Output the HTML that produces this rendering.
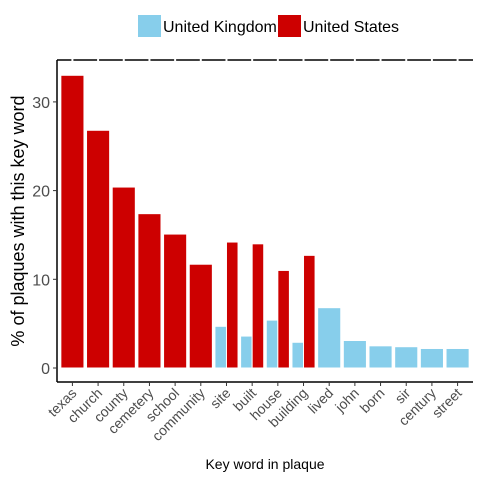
<!DOCTYPE html>
<html><head><meta charset="utf-8"><style>
body{margin:0;background:#fff;font-family:"Liberation Sans",sans-serif}
</style></head><body>
<svg id="c" width="480" height="480" xmlns="http://www.w3.org/2000/svg" font-family="Liberation Sans, sans-serif"></svg>
<script>
const categories=["texas","church","county","cemetery","school","community","site","built","house","building","lived","john","born","sir","century","street"];
const ukValues=[null,null,null,null,null,null,4.7,3.6,5.4,2.9,6.8,3.1,2.5,2.4,2.2,2.2];
const usValues=[33,26.8,20.4,17.4,15.1,11.7,14.2,14.0,11.0,12.7,null,null,null,null,null,null];
const yTicks=[0,10,20,30];
const svg=document.getElementById('c');
const NS='http://www.w3.org/2000/svg';
const L=57,R=473,T=60,B=382;
const unit=(R-L)/(categories.length-1+1.2);
const x=i=>L+(0.6+i)*unit;
const y=v=>368-v*8.87;
function mk(t,a,p){const e=document.createElementNS(NS,t);for(const k in a)e.setAttribute(k,a[k]);(p||svg).appendChild(e);return e;}
let e=mk('line',{x1:L,y1:T,x2:L,y2:B,stroke:'#000','stroke-width':1.5});


e=mk('line',{x1:L,y1:B,x2:R,y2:B,stroke:'#000','stroke-width':1.5});


e=mk('line',{x1:L,y1:T,x2:R,y2:T,stroke:'#000','stroke-width':1.5,'stroke-dasharray':(unit-2)+' 2','stroke-dashoffset':(0.4*unit-1)});


yTicks.forEach(v=>{
 let t=mk('line',{x1:L-4,y1:y(v),x2:L,y2:y(v),stroke:'#333'});
 
 
 let l=mk('text',{x:L-7,y:y(v)+6,'text-anchor':'end','font-size':16,fill:'#4d4d4d'});l.textContent=v;
 
 
});
const bw=unit*0.9;
categories.forEach((c,i)=>{
 const cx=x(i);const uk=ukValues[i],us=usValues[i];
 const both=uk!=null&&us!=null;
 function bar(v,x0,w,col,nm){const r=mk('rect',{x:x0,y:y(v),width:w,height:368-y(v),fill:col,stroke:'#fff','stroke-width':1});
  
  }
 if(both){bar(uk,cx-bw/2,bw/2,'#87ceeb','bar-uk-'+c);bar(us,cx,bw/2,'#cd0000','bar-us-'+c);}
 else if(uk!=null)bar(uk,cx-bw/2,bw,'#87ceeb','bar-uk-'+c);
 else bar(us,cx-bw/2,bw,'#cd0000','bar-us-'+c);
 let t=mk('line',{x1:cx,y1:B,x2:cx,y2:B+4,stroke:'#333'});
 
 
 let l=mk('text',{x:cx+5,y:B+12,'text-anchor':'end','font-size':14,fill:'#4d4d4d',transform:`rotate(-45 ${cx+5} ${B+12})`});l.textContent=c;
 
 
});
let xt=mk('text',{x:265,y:469,'text-anchor':'middle','font-size':14,fill:'#000'});xt.textContent='Key word in plaque';


let yt=mk('text',{x:24,y:221,'text-anchor':'middle','font-size':18,fill:'#000',transform:'rotate(-90 24 221)'});yt.textContent='% of plaques with this key word';


[[138,'#87ceeb','United Kingdom','legend-uk'],[278,'#cd0000','United States','legend-us']].forEach(([lx,col,txt,nm])=>{
 const g=mk('g',{});
 
 
 mk('rect',{x:lx,y:15,width:23,height:22,fill:col},g);
 const tx=mk('text',{x:lx+25,y:32,'font-size':16,fill:'#000'},g);tx.textContent=txt;
});
</script>
</body></html>
